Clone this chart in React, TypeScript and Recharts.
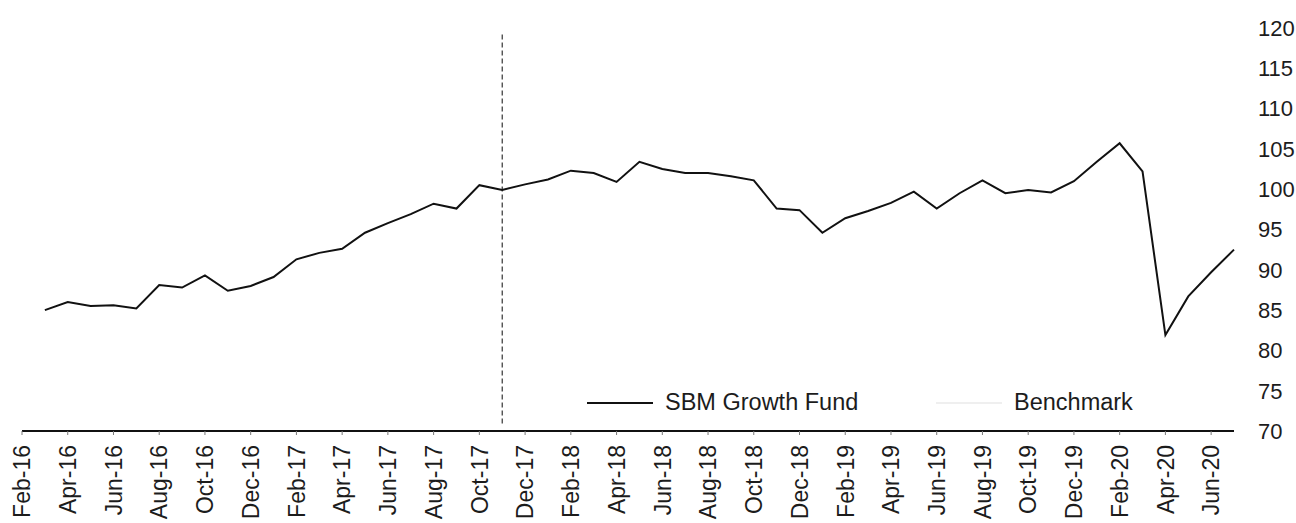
import { Legend, Line, LineChart, ReferenceLine, XAxis, YAxis } from 'recharts'

// month labels, one per data point (axis shows every second one)
const MONTHS = [
  'Feb-16', 'Mar-16', 'Apr-16', 'May-16', 'Jun-16', 'Jul-16', 'Aug-16', 'Sep-16', 'Oct-16', 'Nov-16', 'Dec-16',
  'Jan-17', 'Feb-17', 'Mar-17', 'Apr-17', 'May-17', 'Jun-17', 'Jul-17', 'Aug-17', 'Sep-17', 'Oct-17', 'Nov-17', 'Dec-17',
  'Jan-18', 'Feb-18', 'Mar-18', 'Apr-18', 'May-18', 'Jun-18', 'Jul-18', 'Aug-18', 'Sep-18', 'Oct-18', 'Nov-18', 'Dec-18',
  'Jan-19', 'Feb-19', 'Mar-19', 'Apr-19', 'May-19', 'Jun-19', 'Jul-19', 'Aug-19', 'Sep-19', 'Oct-19', 'Nov-19', 'Dec-19',
  'Jan-20', 'Feb-20', 'Mar-20', 'Apr-20', 'May-20', 'Jun-20', 'Jul-20',
]

const FUND: (number | null)[] = [
  null, 85.0, 86.0, 85.5, 85.6, 85.2, 88.1, 87.8, 89.3, 87.4, 88.0,
  89.1, 91.3, 92.1, 92.6, 94.6, 95.8, 96.9, 98.2, 97.6, 100.5, 99.9, 100.6,
  101.2, 102.3, 102.0, 100.9, 103.4, 102.5, 102.0, 102.0, 101.6, 101.1, 97.6, 97.4,
  94.6, 96.4, 97.3, 98.3, 99.7, 97.6, 99.5, 101.1, 99.5, 99.9, 99.6, 101.0,
  103.4, 105.7, 102.2, 81.9, 86.7, 89.7, 92.5,
]

// benchmark line is not legible in the scan, only its legend label is
const BENCHMARK: (number | null)[] = MONTHS.map(() => null)

const SERIES_NAMES = ['SBM Growth Fund', 'Benchmark']
const Y_TICKS = [70, 75, 80, 85, 90, 95, 100, 105, 110, 115, 120]
const MARKER_MONTH = 'Nov-17'

const FONT = '"Liberation Sans", Arial, sans-serif'
const TEXT = '#1c1c1c'

const data = MONTHS.map((month, i) => ({ month, fund: FUND[i], benchmark: BENCHMARK[i] }))

function MonthTick({ x, y, payload }: any) {
  return (
    <g transform={`translate(${x},${y})`}>
      <text
        transform="rotate(-90)"
        textAnchor="end"
        dy="0.36em"
        fontSize={23}
        fontFamily={FONT}
        fill={TEXT}
      >
        {payload.value}
      </text>
    </g>
  )
}

function LegendContent({ payload }: any) {
  const offsets = [0, 349]
  const items = [...(payload ?? [])].sort(
    (a: any, b: any) => SERIES_NAMES.indexOf(a.value) - SERIES_NAMES.indexOf(b.value),
  )
  return (
    <div style={{ position: 'relative', height: 30, fontFamily: FONT, fontSize: 23.5, color: TEXT }}>
      {items.map((p: any, i: number) => (
        <div
          key={p.value}
          style={{ position: 'absolute', left: offsets[i], top: 0, height: 30, display: 'flex', alignItems: 'center', whiteSpace: 'nowrap' }}
        >
          <svg width={66} height={30}>
            <line x1={0} y1={16} x2={66} y2={16} stroke={p.color} strokeWidth={2} />
          </svg>
          <span style={{ marginLeft: 12 }}>{p.value}</span>
        </div>
      ))}
    </div>
  )
}

export default function App() {
  return (
    <div style={{ position: 'absolute', left: 0, top: 0, background: '#fff' }}>
      <LineChart width={1296} height={523} data={data} margin={{ top: 28, right: 0, bottom: 0, left: 22 }}>
        <XAxis
          dataKey="month"
          interval={1}
          height={92}
          tick={<MonthTick />}
          tickSize={4}
          tickMargin={10}
          tickLine={{ stroke: '#777' }}
          axisLine={{ stroke: '#111', strokeWidth: 2 }}
        />
        <YAxis
          orientation="right"
          domain={[70, 120]}
          ticks={Y_TICKS}
          interval={0}
          width={62}
          axisLine={false}
          tickLine={false}
          tickSize={6}
          tickMargin={18}
          tick={{ fontSize: 22, fontFamily: FONT, fill: TEXT }}
        />
        <ReferenceLine
          segment={[{ x: MARKER_MONTH, y: 119.2 }, { x: MARKER_MONTH, y: 70.8 }]}
          stroke="#333"
          strokeDasharray="5 3"
          strokeWidth={1.2}
        />
        <Legend
          layout="horizontal"
          verticalAlign="middle"
          content={<LegendContent />}
          wrapperStyle={{ left: 587, top: 387, width: 640, height: 30 }}
        />
        <Line
          dataKey="fund"
          name="SBM Growth Fund"
          stroke="#111"
          strokeWidth={2}
          dot={false}
          isAnimationActive={false}
          legendType="line"
        />
        <Line
          dataKey="benchmark"
          name="Benchmark"
          stroke="#efefef"
          strokeWidth={2}
          dot={false}
          isAnimationActive={false}
          legendType="line"
        />
      </LineChart>
    </div>
  )
}
